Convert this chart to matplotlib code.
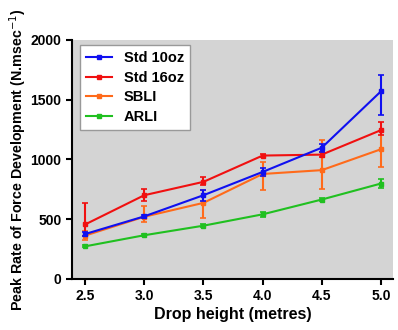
import matplotlib.pyplot as plt
from matplotlib.lines import Line2D
import numpy as np

plt.rcParams['font.family'] = ['Liberation Sans', 'DejaVu Sans']

# drop heights (metres)
heights = np.array([2.5, 3.0, 3.5, 4.0, 4.5, 5.0])

# peak rate of force development, N.msec-1 (mean, lower err, upper err)
std10 = np.array([375, 523, 700, 895, 1098, 1570])
std10_lo = np.array([20, 15, 45, 30, 35, 195])
std10_hi = np.array([20, 15, 45, 30, 35, 140])

std16 = np.array([455, 700, 812, 1032, 1040, 1245])
std16_lo = np.array([100, 45, 30, 15, 20, 40])
std16_hi = np.array([180, 50, 40, 15, 20, 70])

sbli = np.array([362, 520, 636, 878, 910, 1085])
sbli_lo = np.array([40, 40, 125, 138, 155, 150])
sbli_hi = np.array([35, 90, 110, 100, 255, 150])

arli = np.array([272, 365, 445, 540, 664, 798])
arli_lo = np.array([8, 8, 10, 20, 10, 35])
arli_hi = np.array([8, 8, 10, 20, 10, 35])

labels = ["Std 10oz", "Std 16oz", "SBLI", "ARLI"]
colors = ["#1010f0", "#f01010", "#ff6a1a", "#20c020"]

fig = plt.figure(figsize=(3.98, 3.3), dpi=100)
ax = fig.add_axes([0.181, 0.155, 0.806, 0.724])
ax.set_facecolor("#d4d4d4")

series = [(std10, std10_lo, std10_hi), (std16, std16_lo, std16_hi),
          (sbli, sbli_lo, sbli_hi), (arli, arli_lo, arli_hi)]
zs = [5, 4, 3, 2]
handles = []
for (y, lo, hi), lab, c, z in zip(series, labels, colors, zs):
    ax.errorbar(heights, y, yerr=[lo, hi], color=c, lw=1.5, marker="s", ms=2.5,
                capsize=2, elinewidth=1.5, capthick=1.2, zorder=z)
    handles.append(Line2D([], [], color=c, lw=1.5, marker="s", ms=2.5, label=lab))

ax.set_xlim(2.39, 5.1)
ax.set_ylim(0, 2000)
ax.set_xticks(heights)
ax.set_xticklabels([f"{h:.1f}" for h in heights])
ax.set_yticks([0, 500, 1000, 1500, 2000])

for s in ["top", "right"]:
    ax.spines[s].set_visible(False)
for s in ["left", "bottom"]:
    ax.spines[s].set_linewidth(1.5)
ax.tick_params(width=1.5, length=4, labelsize=10)
for t in ax.get_xticklabels() + ax.get_yticklabels():
    t.set_fontweight("bold")

ax.set_xlabel("Drop height (metres)", fontsize=11.5, fontweight="bold", labelpad=3)
ax.set_ylabel("Peak Rate of Force Development (N.msec$^{-1}$)", fontsize=10.3,
              fontweight="bold", labelpad=1)

leg = ax.legend(handles=handles, loc="upper left", frameon=True, fancybox=False,
                prop={"weight": "bold", "size": 10.5}, handlelength=1.8,
                handletextpad=0.8, borderpad=0.4, labelspacing=0.4,
                borderaxespad=0, bbox_to_anchor=(0.025, 0.979))
leg.get_frame().set_edgecolor("#999999")
leg.get_frame().set_facecolor("white")
leg.get_frame().set_alpha(1)

fig.savefig("out.png", dpi=100)
